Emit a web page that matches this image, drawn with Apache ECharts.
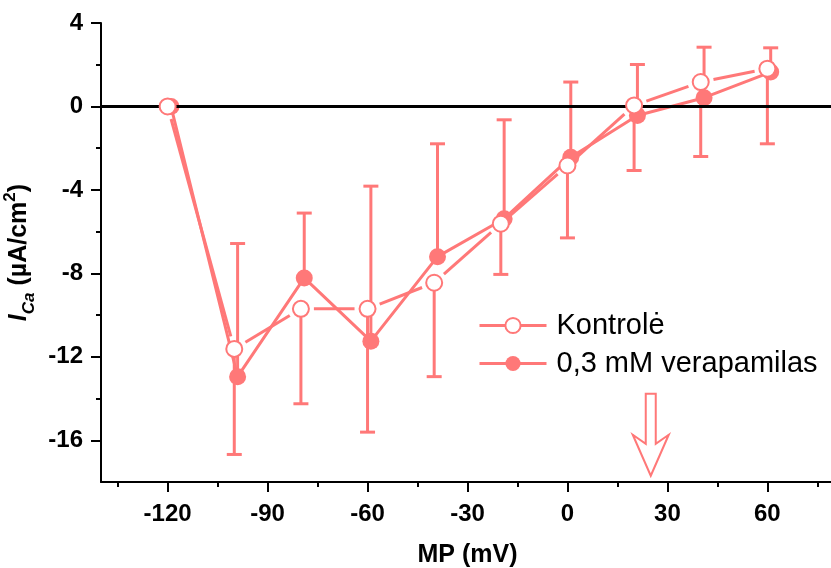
<!DOCTYPE html>
<html><head><meta charset="utf-8">
<script src="https://cdn.jsdelivr.net/npm/echarts@6/dist/echarts.min.js"></script>
<style>html,body{margin:0;padding:0;background:#fff}#c{width:831px;height:568px}</style>
</head><body><div id="c"></div>
<script>
// ---- data ----
const voltage = [-120, -100, -80, -60, -40, -20, 0, 20, 40, 60];
const voltageShifted = [-119, -99, -79, -59, -39, -19, 1, 21, 41, 61]; // verapamil points are drawn slightly to the right
const control = [0, -11.62, -9.70, -9.70, -8.45, -5.62, -2.83, 0.05, 1.17, 1.81];
const controlErrDown = [0, 5.06, 4.55, 5.91, 4.50, 2.43, 3.47, 3.12, 3.57, 3.60];
const verapamil = [0, -12.95, -8.22, -11.25, -7.20, -5.38, -2.43, -0.43, 0.42, 1.65];
const verapamilErrUp = [0, 6.38, 3.11, 7.43, 5.41, 4.74, 3.60, 2.44, 2.42, 1.16];
const xTicks = [-120, -90, -60, -30, 0, 30, 60];
const xMinorTicks = [-135, -105, -75, -45, -15, 15, 45, 75];
const yTicks = [4, 0, -4, -8, -12, -16];
const yMinorTicks = [2, -2, -6, -10, -14];
const seriesNames = ['Kontrolė', '0,3 mM verapamilas'];
const arrowTip = [25, -17.7];

const C = '#FF7878';
const FONT = '"Liberation Sans", Arial, Helvetica, sans-serif';

function errRender(dir) {
  return function (params, api) {
    const x = api.value(0), y = api.value(1), e = api.value(2);
    if (!(e > 0)) return;
    const p0 = api.coord([x, y]);
    const p1 = api.coord([x, y + dir * e]);
    const hw = 7.5;
    return {
      type: 'group',
      children: [
        { type: 'line', shape: { x1: p0[0], y1: p0[1], x2: p1[0], y2: p1[1] }, style: { stroke: C, lineWidth: 3 } },
        { type: 'line', shape: { x1: p1[0] - hw, y1: p1[1], x2: p1[0] + hw, y2: p1[1] }, style: { stroke: C, lineWidth: 3 } }
      ]
    };
  };
}

const chart = echarts.init(document.getElementById('c'), null, { renderer: 'canvas' });
const tickLabel = { fontFamily: FONT, fontSize: 24, fontWeight: 'bold', color: '#000' };

chart.setOption({
  animation: false,
  backgroundColor: '#fff',
  grid: { left: 101, top: 23, width: 733, height: 459, containLabel: false, outerBoundsMode: 'none' },
  legend: {
    orient: 'vertical',
    left: 478, top: 311,
    padding: 0,
    itemWidth: 67, itemHeight: 19, itemGap: 9,
    textStyle: { fontFamily: FONT, fontSize: 29, color: '#000', padding: [0, 0, 0, 5] },
    data: [
      { name: seriesNames[0], lineStyle: { color: C, width: 3, opacity: 1 } },
      { name: seriesNames[1], lineStyle: { color: C, width: 3, opacity: 1 } }
    ]
  },
  xAxis: [
    {
      type: 'value', min: -140, max: 80,
      axisLine: { onZero: false, lineStyle: { color: '#000', width: 2 } },
      axisTick: { customValues: xTicks, length: 10, lineStyle: { color: '#000', width: 2 } },
      axisLabel: Object.assign({ customValues: xTicks, margin: 20 }, tickLabel),
      splitLine: { show: false },
      name: 'MP (mV)', nameLocation: 'middle', nameGap: 61,
      nameTextStyle: { fontFamily: FONT, fontSize: 25, fontWeight: 'bold', color: '#000' }
    },
    {
      type: 'value', min: -140, max: 80, position: 'bottom',
      axisLine: { show: false, onZero: false },
      axisTick: { customValues: xMinorTicks, length: 5, lineStyle: { color: '#000', width: 2 } },
      axisLabel: { show: false },
      splitLine: { show: false }
    }
  ],
  yAxis: [
    {
      type: 'value', min: -18, max: 4,
      axisLine: { onZero: false, lineStyle: { color: '#000', width: 2 } },
      axisTick: { customValues: yTicks, length: 10, lineStyle: { color: '#000', width: 2 } },
      axisLabel: Object.assign({ customValues: yTicks, margin: 18 }, tickLabel),
      splitLine: { show: false },
      name: '{i|I}{s|Ca}{n| (µA/cm}{p|2}{n|)}',
      nameLocation: 'middle', nameRotate: 90, nameGap: 63,
      nameTextStyle: {
        fontFamily: FONT, fontSize: 25, fontWeight: 'bold', color: '#000',
        rich: {
          i: { fontFamily: FONT, fontSize: 25, fontWeight: 'bold', fontStyle: 'italic', color: '#000', lineHeight: 36 },
          s: { fontFamily: FONT, fontSize: 17, fontWeight: 'bold', fontStyle: 'italic', color: '#000', lineHeight: 18, verticalAlign: 'bottom' },
          n: { fontFamily: FONT, fontSize: 25, fontWeight: 'bold', color: '#000', lineHeight: 36 },
          p: { fontFamily: FONT, fontSize: 17, fontWeight: 'bold', color: '#000', lineHeight: 20, verticalAlign: 'top' }
        }
      }
    },
    {
      type: 'value', min: -18, max: 4, position: 'left',
      axisLine: { show: false, onZero: false },
      axisTick: { customValues: yMinorTicks, length: 5, lineStyle: { color: '#000', width: 2 } },
      axisLabel: { show: false },
      splitLine: { show: false }
    }
  ],
  series: [
    {
      name: 'zero', type: 'line', data: [], z: 1, silent: true,
      markLine: {
        silent: true, symbol: ['none', 'none'], label: { show: false },
        lineStyle: { color: '#000', width: 3, type: 'solid' },
        data: [{ yAxis: 0 }]
      }
    },
    {
      name: 'errCtrl', type: 'custom', z: 2, silent: true,
      encode: { x: 0, y: 1 },
      data: voltage.map((v, i) => [v, control[i], controlErrDown[i]]),
      renderItem: errRender(-1)
    },
    {
      name: 'errVer', type: 'custom', z: 2, silent: true,
      encode: { x: 0, y: 1 },
      data: voltageShifted.map((v, i) => [v, verapamil[i], verapamilErrUp[i]]),
      renderItem: errRender(1)
    },
    {
      name: 'ctrlLine', type: 'custom', z: 3, silent: true,
      encode: { x: 0, y: 1 },
      data: voltage.map((v, i) => [v, control[i]]),
      renderItem: function (params, api) {
        const i = params.dataIndex;
        if (i >= voltage.length - 1) return;
        const a = api.coord([voltage[i], control[i]]);
        const b = api.coord([voltage[i + 1], control[i + 1]]);
        const dx = b[0] - a[0], dy = b[1] - a[1], L = Math.hypot(dx, dy);
        const g = 13;
        if (L <= 2 * g) return;
        const ux = dx / L, uy = dy / L;
        return { type: 'line', shape: { x1: a[0] + ux * g, y1: a[1] + uy * g, x2: b[0] - ux * g, y2: b[1] - uy * g }, style: { stroke: C, lineWidth: 3 } };
      }
    },
    {
      name: seriesNames[1], type: 'line', z: 4,
      data: voltageShifted.map((v, i) => [v, verapamil[i]]),
      symbol: 'circle', symbolSize: 17,
      lineStyle: { color: C, width: 3 },
      itemStyle: { color: C }
    },
    {
      name: seriesNames[0], type: 'line', z: 5,
      data: voltage.map((v, i) => [v, control[i]]),
      symbol: 'emptyCircle', symbolSize: 16,
      lineStyle: { color: C, width: 3, opacity: 0 },
      itemStyle: { color: C, borderColor: C, borderWidth: 2 }
    },
    {
      name: 'arrow', type: 'custom', z: 6, silent: true,
      encode: { x: 0, y: 1 },
      data: [arrowTip],
      renderItem: function (params, api) {
        const p = api.coord([api.value(0), api.value(1)]);
        const off = [[0, 0], [18, -41], [5, -32], [5, -82], [-5, -82], [-5, -32], [-18, -41]];
        return {
          type: 'polygon',
          shape: { points: off.map(o => [p[0] + o[0], p[1] + o[1]]) },
          style: { fill: '#fff', stroke: C, lineWidth: 2 }
        };
      }
    }
  ]
});
</script>
</body></html>
